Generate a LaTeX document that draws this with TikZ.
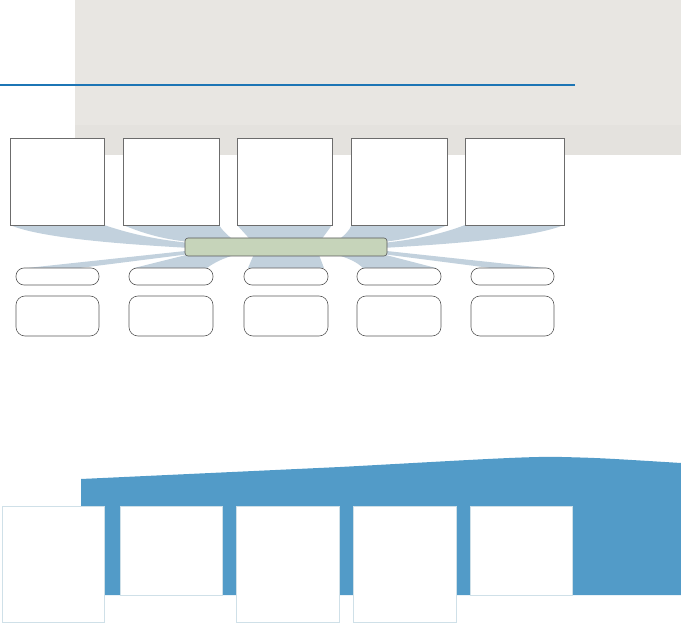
\documentclass[tikz,border=0pt]{standalone}
\usepackage{tikz}
\usetikzlibrary{positioning,calc,backgrounds}
\definecolor{panelgray}{HTML}{E8E6E2}
\definecolor{panelband}{HTML}{E4E2DE}
\definecolor{ruleblue}{HTML}{1C75B5}
\definecolor{fanblue}{HTML}{C2D1DD}
\definecolor{hubgreen}{HTML}{C6D4BA}
\definecolor{baseblue}{HTML}{529BC8}
\definecolor{paleedge}{HTML}{CFE0E8}

\begin{document}
\begin{tikzpicture}[x=1pt,y=-1pt]
\useasboundingbox (0,0) rectangle (681,623);

\tikzstyle{topbox}=[draw=gray!85!black,fill=white,line width=0.7pt,inner sep=0pt,outer sep=0pt,minimum width=95pt,minimum height=87pt]
\tikzstyle{pill}=[draw=black!65,fill=white,line width=0.6pt,rounded corners=8pt,inner sep=0pt,outer sep=0pt,minimum width=84pt,minimum height=17pt]
\tikzstyle{slot}=[pill,minimum height=40pt,rounded corners=9pt]
\tikzstyle{hub}=[draw=black!65,fill=hubgreen,line width=0.6pt,rounded corners=3pt,inner sep=0pt,outer sep=0pt,minimum width=202pt,minimum height=18pt]
\tikzstyle{fan}=[fill=fanblue,draw=none]
\tikzstyle{bay}=[draw=paleedge,fill=white,line width=0.75pt,inner sep=0pt,outer sep=0pt,minimum width=102pt,minimum height=116pt]

%backdrop
\fill[panelgray] (75,0) rectangle (681,125);
\fill[panelband] (75,125) rectangle (681,155);
\draw[ruleblue,line width=2pt] (0,85) -- (575,85);

%top row
\node (t1) [topbox,minimum width=94pt] at (57,181.5) {};
\node (t2) [topbox,minimum width=96pt] at (171,181.5) {};
\node (t3) [topbox] at (284.5,181.5) {};
\node (t4) [topbox,minimum width=96pt] at (399.5,181.5) {};
\node (t5) [topbox,minimum width=99pt] at (514.5,181.5) {};

\node (hub) [hub] at (286,247) {};

%pills and slots
\node (p1) [pill,minimum width=83pt] at (57.5,276.5) {};
\node (p2) [pill] at (171,276.5) {};
\node (p3) [pill] at (286,276.5) {};
\node (p4) [pill] at (399,276.5) {};
\node (p5) [pill,minimum width=83pt] at (512.5,276.5) {};
\node (s1) [slot,minimum width=83pt,below=11pt of p1] {};
\node (s2) [slot,below=11pt of p2] {};
\node (s3) [slot,below=11pt of p3] {};
\node (s4) [slot,below=11pt of p4] {};
\node (s5) [slot,minimum width=83pt,below=11pt of p5] {};

%fans behind the boxes
\begin{scope}[on background layer]
\fill[fan] (t1.south west) .. controls (40,238) and (120,244) .. (190,248) -- (190,243) .. controls (150,239) and (125,232) .. (t1.south east) -- cycle;
\fill[fan] (t2.south west) .. controls (140,232) and (160,239) .. (190,242) -- (235,241) .. controls (228,236) and (222,230) .. (t2.south east) -- cycle;
\fill[fan] (t3.south west) -- (t3.south east) -- (316,247) -- ($(p3.north east)+(-4,0)$) -- ($(p3.north west)+(4,0)$) -- (257,247) -- cycle;
\fill[fan] (t4.south east) .. controls (432,232) and (412,239) .. (382,242) -- (337,241) .. controls (344,236) and (350,230) .. (t4.south west) -- cycle;
\fill[fan] (t5.south east) .. controls (532,238) and (452,244) .. (382,248) -- (382,243) .. controls (422,239) and (447,232) .. (t5.south west) -- cycle;
\fill[fan] (190,250.5) -- ($(p1.north west)+(11,0)$) -- ($(p1.north)+(22,0)$) -- (190,254) -- cycle;
\fill[fan] (190,254) -- ($(p2.north west)+(5,0)$) -- ($(p2.north east)+(-6,0)$) .. controls (215,262) and (224,258) .. (235,255) -- cycle;
\fill[fan] (382,254) -- ($(p4.north east)+(-5,0)$) -- ($(p4.north west)+(6,0)$) .. controls (357,262) and (348,258) .. (337,255) -- cycle;
\fill[fan] (382,250.5) -- ($(p5.north east)+(-9,0)$) -- ($(p5.north)+(-22,0)$) -- (382,254) -- cycle;
\end{scope}

%bottom frame
\fill[baseblue] (81,479) -- (340,467) .. controls (470,460) and (530,456) .. (562,457) .. controls (600,458) .. (681,463) -- (681,595) -- (81,595) -- cycle;
\node (bA) [bay] at (53,564) {};
\node (bB) [bay,minimum height=89pt] at (171,550.5) {};
\node (bC) [bay,minimum width=103pt] at (287.5,564) {};
\node (bD) [bay,minimum width=103pt] at (404.5,564) {};
\node (bE) [bay,minimum height=89pt] at (521,550.5) {};
\end{tikzpicture}
\end{document}
